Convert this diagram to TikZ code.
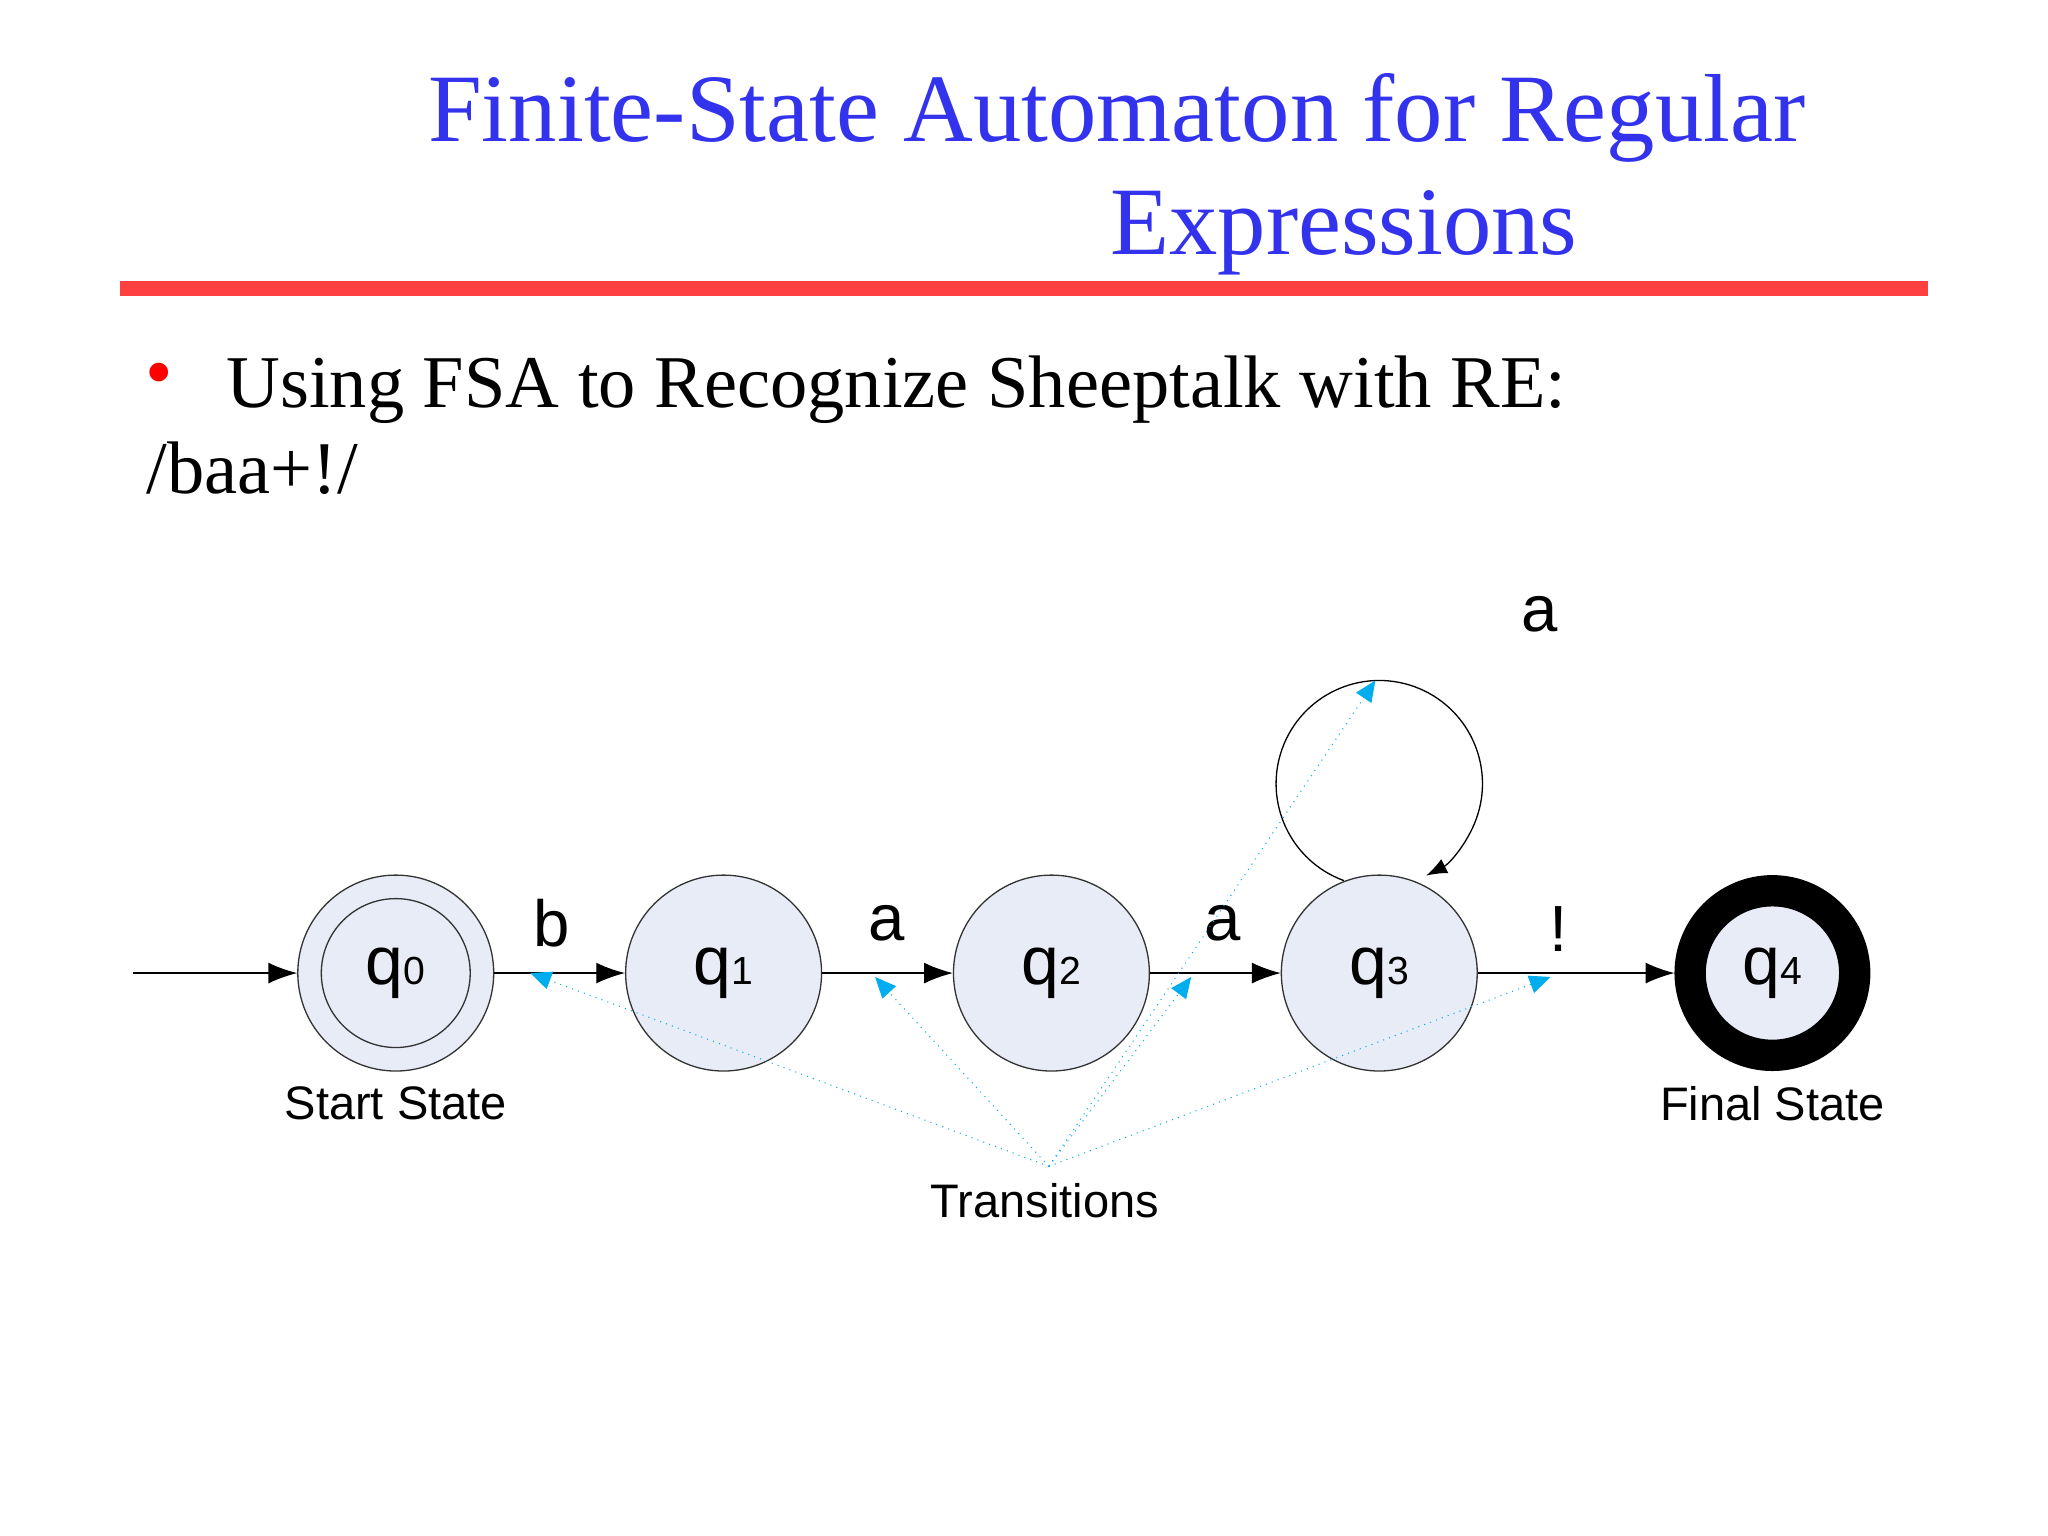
\documentclass[tikz,border=0pt]{standalone}
\usepackage{fontspec}
\setmainfont{Liberation Serif}
\newfontfamily\ars{Liberation Sans}
\usetikzlibrary{arrows.meta}
\definecolor{ttl}{RGB}{51,51,238}
\definecolor{stfill}{RGB}{232,236,246}
\begin{document}
\begin{tikzpicture}[x=0.5pt,y=-0.5pt,
  st/.style={circle,draw=black!80,line width=0.5pt,fill=stfill,minimum size=75pt,inner sep=0pt,font=\ars\fontsize{26}{26}\selectfont},
  tr/.style={-{Latex[length=11pt,width=8pt]},line width=0.5pt},
  cy/.style={-{Triangle[length=8pt,width=7pt]},cyan,dotted,line width=0.4pt},
  lab/.style={font=\ars\fontsize{25}{25}\selectfont},
  sm/.style={font=\ars\fontsize{18}{18}\selectfont}]
\useasboundingbox (0,0) rectangle (1568,1176);
\fill[white] (0,0) rectangle (1568,1176);
\newcommand{\sub}[1]{{\fontsize{15}{15}\selectfont #1}}
\node[text=ttl,font=\fontsize{37}{37}\selectfont,anchor=base] (t1) at (855,108) {Finite-State Automaton for Regular};
\node[text=ttl,font=\fontsize{37}{37}\selectfont,anchor=base] (t2) at (1029,195) {Expressions};
\fill[red!75!white] (92,215) rectangle (1476,227);
\node[text=red,font=\fontsize{30}{30}\selectfont,anchor=base] (bul) at (122,305) {•};
\node[font=\fontsize{28.5}{28.5}\selectfont,anchor=base west,inner sep=0pt] (b1) at (173,312) {Using FSA to Recognize Sheeptalk with RE:};
\node[font=\fontsize{28.5}{28.5}\selectfont,anchor=base west,inner sep=0pt] (b2) at (112,378) {/baa+!/};
% states
\node[st] (q0) at (303,745) {};
\node[circle,draw=black!80,line width=0.5pt,minimum size=57pt,inner sep=0pt,font=\ars\fontsize{26}{26}\selectfont] (q0i) at (303,745) {\raisebox{-3pt}{q\sub{0}}};
\node[st] (q1) at (554,745) {\raisebox{-3pt}{q\sub{1}}};
\node[st] (q2) at (805,745) {\raisebox{-3pt}{q\sub{2}}};
\node[st] (q3) at (1056,745) {\raisebox{-3pt}{q\sub{3}}};
\node[circle,draw=black,line width=12pt,fill=stfill,minimum size=63pt,inner sep=0pt,font=\ars\fontsize{26}{26}\selectfont] (q4) at (1357,745) {\raisebox{-3pt}{q\sub{4}}};
\coordinate (in) at (102,745);
\draw[tr] (in) -- (q0);
\draw[tr] (q0) -- (q1);
\draw[tr] (q1) -- (q2);
\draw[tr] (q2) -- (q3);
\draw[tr] (q3) -- (q4);
\draw[-{Latex[length=8pt,width=6pt]},line width=0.5pt] (1056,600) ++(110:79) arc[start angle=110,end angle=423,radius=79] coordinate (le);
\node[lab] (lb) at (422,707) {b};
\node[lab] (la1) at (679,707) {a};
\node[lab] (la2) at (936,707) {a};
\node[lab] (lx) at (1193,711) {!};
\node[lab] (la3) at (1179,470) {a};
\node[sm] (ss) at (303,845) {Start State};
\node[sm] (fs) at (1357,845) {Final State};
\node[sm] (trn) at (800,919) {Transitions};
\coordinate (o) at (803,893);
\coordinate (c1) at (406,745);
\coordinate (c2) at (670,748);
\coordinate (c3) at (912,748);
\coordinate (c4) at (1053,521);
\coordinate (c5) at (1187,748);
\foreach \c in {c1,c2,c3,c4,c5} \draw[cy] (o) -- (\c);
\end{tikzpicture}
\end{document}
